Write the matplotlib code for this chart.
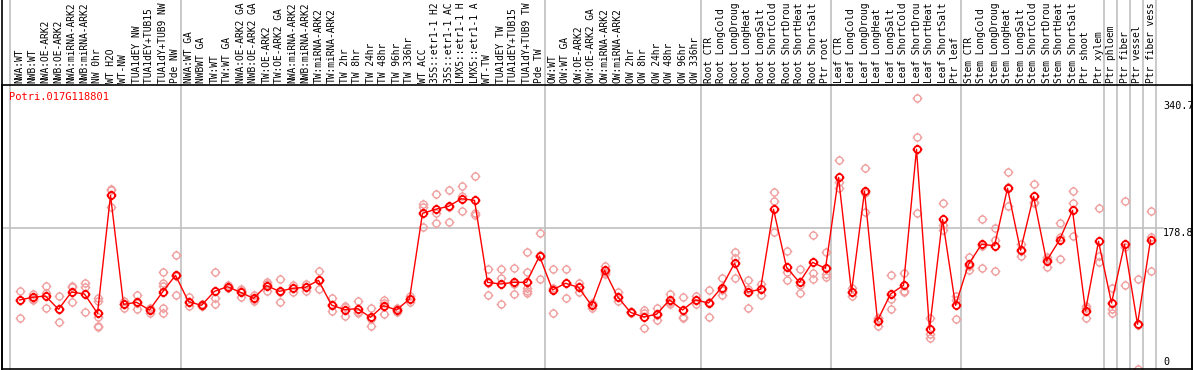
import numpy as np
import matplotlib
matplotlib.use("Agg")
import matplotlib.pyplot as plt
from matplotlib.path import Path
from matplotlib.lines import Line2D

# gene shown in the panel
gene_name = 'Potri.017G118801'

# sample names, left to right
samples = ['NWA:WT', 'NWB:WT', 'NWA:OE-ARK2', 'NWB:OE-ARK2', 'NWA:miRNA-ARK2',
           'NWB:miRNA-ARK2', 'NW 0hr', 'WT H2O', 'WT-NW', 'TUA1dEY NW',
           'TUA1dEY+TUB15 NW', 'TUA1dY+TUB9 NW', 'Pde NW',
           'NWA:WT GA', 'NWBWT GA', 'TW:WT', 'TW:WT GA', 'NWA:OE-ARK2 GA',
           'NWB:OE-ARK2 GA', 'TW:OE-ARK2', 'TW:OE-ARK2 GA', 'NWA:miRNA-ARK2',
           'NWB:miRNA-ARK2', 'TW:miRNA-ARK2', 'TW:miRNA-ARK2', 'TW 2hr', 'TW 8hr',
           'TW 24hr', 'TW 48hr', 'TW 96hr', 'TW 336hr', 'WT ACC', '35S::etr1-1 H2O',
           '35S::etr1-1 ACC', 'LMX5::etr1-1 H2O', 'LMX5::etr1-1 ACC', 'WT-TW',
           'TUA1dEY TW', 'TUA1dEY+TUB15 TW', 'TUA1dY+TUB9 TW', 'Pde TW',
           'OW:WT', 'OW:WT GA', 'OW:OE-ARK2', 'OW:OE-ARK2 GA', 'OW:miRNA-ARK2',
           'OW:miRNA-ARK2', 'OW 2hr', 'OW 8hr', 'OW 24hr', 'OW 48hr', 'OW 96hr',
           'OW 336hr',
           'Root CTR', 'Root LongCold', 'Root LongDrought', 'Root LongHeat',
           'Root LongSalt', 'Root ShortCold', 'Root ShortDrought', 'Root ShortHeat',
           'Root ShortSalt', 'Ptr root',
           'Leaf CTR', 'Leaf LongCold', 'Leaf LongDrought', 'Leaf LongHeat',
           'Leaf LongSalt', 'Leaf ShortCold', 'Leaf ShortDrought', 'Leaf ShortHeat',
           'Leaf ShortSalt', 'Ptr leaf',
           'Stem CTR', 'Stem LongCold', 'Stem LongDrought', 'Stem LongHeat',
           'Stem LongSalt', 'Stem ShortCold', 'Stem ShortDrought', 'Stem ShortHeat',
           'Stem ShortSalt', 'Ptr shoot', 'Ptr xylem',
           'Ptr phloem', 'Ptr fiber', 'Ptr vessel', 'Ptr fiber vessel']

# the header only has room for 14 characters per name
max_chars = 14

# last sample (1-based) of each block, a grey line follows it
group_ends = [13, 41, 53, 63, 73, 84, 85, 86, 87, 88]

# mean expression per sample
means = [87.7, 91.1, 92.8, 75.8, 97.8, 95.3, 70.7, 220.7, 82.2, 84.7,
         75.0, 97.8, 119.0, 85.6, 80.9, 98.7, 104.6, 97.4, 89.8, 105.9,
         98.7, 102.5, 103.8, 112.7, 81.3, 75.4, 76.7, 65.7, 80.5, 75.0,
         88.9, 197.8, 202.9, 206.7, 216.4, 214.3, 110.1, 108.0, 110.1, 110.1,
         143.6, 100.4, 108.9, 103.8, 80.9, 125.4, 91.9, 72.0, 66.1, 69.5,
         87.7, 75.0, 87.7, 83.9, 103.4, 134.3, 97.8, 101.2, 202.9, 129.2,
         110.1, 135.5, 127.9, 243.5, 97.8, 225.8, 61.4, 95.3, 106.3, 279.1,
         50.4, 190.2, 80.9, 133.0, 158.4, 156.7, 229.6, 150.8, 219.4, 137.2,
         163.9, 201.6, 74.1, 162.2, 83.9, 158.4, 56.8, 163.9]

# single replicates per sample
replicates = [
    [99.1, 87.7, 64.8], [95.7, 89.4, 87.7], [105.5, 96.1, 77.1], [92.3, 75.8, 59.3],
    [105.5, 103.8, 85.6], [109.7, 103.8, 72.0], [90.2, 86.0, 65.7, 54.6, 53.8],
    [228.7, 227.1, 206.3], [86.0, 83.0, 77.5], [94.0, 83.4, 76.7],
    [77.5, 76.8, 70.7], [123.3, 109.3, 105.5, 77.1, 71.2], [144.9, 118.5, 93.6],
    [91.5, 84.8, 80.5], [82.6, 80.1, 80.0], [122.8, 89.8, 82.6], [107.2, 104.0, 102.9],
    [102.1, 98.6, 91.5], [94.0, 88.6, 86.8], [110.5, 108.0, 99.2],
    [113.9, 97.5, 84.7], [107.2, 102.5, 97.8], [108.4, 103.8, 99.1], [124.1, 112.8, 101.2],
    [89.8, 80.8, 73.3], [80.1, 78.3, 67.8], [86.4, 73.0, 70.7], [77.9, 64.1, 55.1],
    [87.7, 84.3, 69.5], [77.0, 75.0, 73.0],
    [92.8, 88.4, 85.6], [209.2, 206.3, 180.9], [221.9, 198.6, 185.9], [227.0, 205.9, 187.2],
    [232.1, 219.8, 200.3], [244.8, 198.6, 195.7], [127.5, 109.2, 93.6], [126.6, 115.2, 82.6],
    [127.9, 107.5, 94.9], [148.2, 122.8, 102.5, 98.7, 96.1],
    [172.4, 144.5, 113.9], [126.6, 103.4, 70.7], [127.5, 109.4, 89.8], [109.7, 104.3, 97.4],
    [83.4, 81.8, 77.5], [131.3, 123.7, 121.2], [97.8, 91.1, 86.8], [73.0, 72.0, 71.0],
    [75.0, 71.6, 51.7], [77.5, 69.2, 61.8],
    [95.7, 85.2, 82.2], [91.1, 66.5, 65.2], [93.2, 87.3, 82.6], [100.4, 84.8, 66.5],
    [115.6, 100.6, 94.0], [148.2, 141.0, 115.2], [112.7, 101.7, 77.9], [108.4, 101.6, 93.6],
    [224.9, 213.0, 173.7], [149.5, 123.7, 113.1],
    [127.1, 107.1, 96.1], [170.3, 122.4, 113.9], [148.2, 120.3, 117.3], [265.1, 238.0, 229.6],
    [102.5, 97.7, 93.2], [255.0, 223.3, 199.1], [64.8, 64.8, 54.6], [119.4, 88.9, 76.2],
    [121.6, 99.5, 97.8], [343.9, 294.4, 198.6],
    [64.4, 44.5, 39.8], [210.5, 183.5, 176.6], [92.8, 87.7, 63.1], [142.3, 130.9, 125.8],
    [190.6, 156.7, 127.9], [179.2, 164.3, 124.9], [249.9, 231.4, 207.5], [158.4, 150.0, 144.0],
    [234.6, 212.6, 211.0], [141.8, 139.8, 130.0],
    [185.1, 167.3, 139.3], [225.8, 210.5, 168.6], [80.0, 77.1, 65.2], [204.2, 144.0, 136.4],
    [102.5, 75.8, 70.7], [213.0, 155.4, 106.7], [113.9, 56.5, 0.0], [200.8, 167.7, 124.1]]

# labels on the right side
y_marks = [340.7, 178.8, 0]

plt.rcParams['font.family'] = 'DejaVu Sans Mono'
plt.rcParams['font.size'] = 7

W, H = 1194, 370
fig = plt.figure(figsize=(W / 100, H / 100), dpi=100)

# plot box: x 1.7..1192 px, y 85..369 px
ax = fig.add_axes([1.7 / W, 1 / H, (1192 - 1.7) / W, (369 - 85) / H])
step = 13.0
first = 19.5
ax.set_xlim((1.7 - first) / step, (1192 - first) / step)
ax.set_ylim(0, (369 - 85) / 0.787)

# circle marker with four little ticks
circ = Path.unit_circle()
tick_v = [(1, 0), (1.4, 0), (-1, 0), (-1.4, 0), (0, 1), (0, 1.4), (0, -1), (0, -1.4)]
tick_c = [Path.MOVETO, Path.LINETO] * 4
mark = Path(np.concatenate([circ.vertices, tick_v]), np.concatenate([circ.codes, tick_c]))

x = np.arange(len(samples))
rx = np.concatenate([[i] * len(r) for i, r in enumerate(replicates)])
ry = np.concatenate(replicates)

ax.plot(rx, ry, linestyle='none', marker=mark, markersize=7, markerfacecolor='none',
        markeredgecolor='#f0a0a0', markeredgewidth=1.0, clip_on=True, zorder=2)
ax.plot(x, means, color='red', lw=1.0, marker=mark, markersize=7, markerfacecolor='none',
        markeredgecolor='red', markeredgewidth=1.3, zorder=3)

# grid lines
label_x = (1163 - 1.7) / (1192 - 1.7)
ax.axhline(178.8, xmin=0, xmax=label_x, color='#c0c0c0', lw=1.2, zorder=1)
top_frac = 1 + 85 / (369 - 85)
ax.axvline((10.3 - first) / step, ymin=0, ymax=top_frac, color='#c0c0c0', lw=1.2,
           clip_on=False, zorder=1)
for g in group_ends:
    ax.axvline(g - 1 + 5 / step, ymin=0, ymax=top_frac, color='#c0c0c0', lw=1.2,
               clip_on=False, zorder=1)

# sample names on top
ax.set_xticks(x)
ax.set_xticklabels([s[:max_chars] for s in samples], rotation=90, fontsize=6.9)
ax.tick_params(axis='x', top=True, labeltop=True, bottom=False, labelbottom=False,
               length=0, pad=1.5)
ax.set_yticks([])

# right side values
yt = ax.get_yaxis_transform()
for v in y_marks:
    ax.text(label_x, v if v > 0 else 3, str(v), transform=yt, fontsize=7.3,
            ha='left', va='top' if v > 0 else 'bottom')

for s in ax.spines.values():
    s.set_linewidth(1.2)

# outer borders through the label area
fig.add_artist(Line2D([1.7 / W, 1.7 / W], [0, 1], color='black', lw=1.2))
fig.add_artist(Line2D([1192 / W, 1192 / W], [0, 1], color='black', lw=1.2))

fig.text(9.5 / W, 1 - 92 / H, gene_name, color='red', fontsize=7.5, va='top', ha='left')

fig.savefig('out.png', dpi=100)
